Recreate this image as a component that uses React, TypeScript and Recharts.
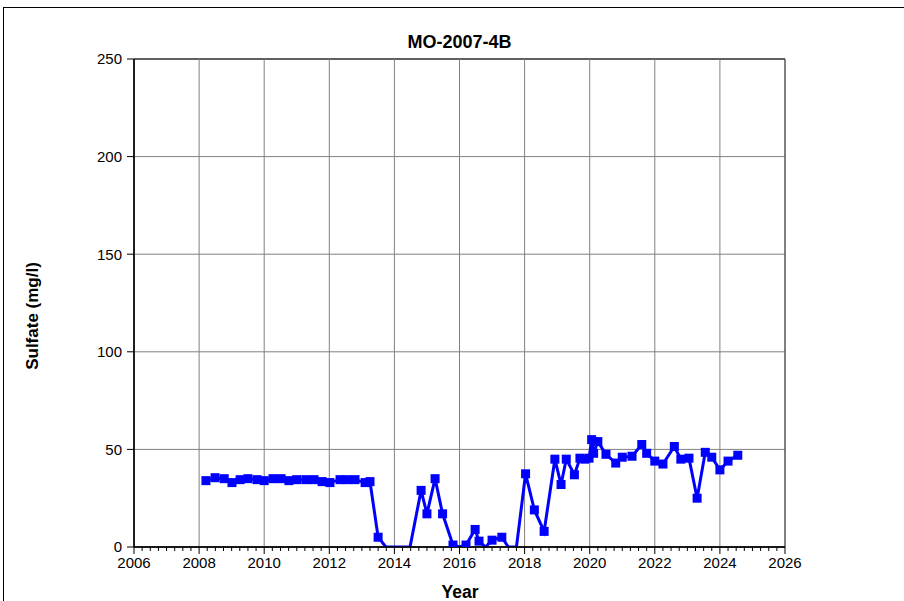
import React from 'react';
import { LineChart, Line, XAxis, YAxis, CartesianGrid, ReferenceArea, ReferenceLine, Label } from 'recharts';

const years: number[] = [
  2008.21, 2008.49, 2008.77, 2009.01, 2009.26, 2009.5, 2009.78, 2010.0, 2010.27, 2010.52, 2010.76,
  2011.0, 2011.28, 2011.53, 2011.78, 2012.02, 2012.33, 2012.54, 2012.79, 2013.1, 2013.25, 2013.5,
  2013.74, 2014.1, 2014.48, 2014.82, 2015.0, 2015.25, 2015.48, 2015.8, 2016.0, 2016.2, 2016.48,
  2016.6, 2016.8, 2017.0, 2017.3, 2017.5, 2017.75, 2018.03, 2018.3, 2018.6, 2018.93, 2019.12,
  2019.28, 2019.53, 2019.7, 2019.85, 2019.98, 2020.06, 2020.12, 2020.25, 2020.5, 2020.8, 2021.0,
  2021.3, 2021.6, 2021.75, 2022.0, 2022.25, 2022.6, 2022.8, 2023.05, 2023.3, 2023.55, 2023.75,
  2024.0, 2024.25, 2024.55,
];

const sulfate: number[] = [
  34, 35.5, 35, 33, 34.5, 35, 34.5, 34, 35, 35, 34,
  34.5, 34.5, 34.5, 33.5, 33, 34.5, 34.5, 34.5, 33, 33.5, 5,
  0, 0, 0, 29, 17, 35, 17, 1, 0, 1, 9,
  3, 0, 3.5, 5, 0, 0, 37.5, 19, 8, 45, 32,
  45, 37, 45.5, 45, 45.5, 55, 48, 54, 47.5, 43, 46,
  46.5, 52.5, 48, 44, 42.5, 51.5, 45, 45.5, 25, 48.5, 46,
  39.5, 44, 47,
];

const xTicks: number[] = [2006, 2008, 2010, 2012, 2014, 2016, 2018, 2020, 2022, 2024, 2026];
const yTicks: number[] = [0, 50, 100, 150, 200, 250];

const title = 'MO-2007-4B';
const xTitle = 'Year';
const yTitle = 'Sulfate (mg/l)';

const data = years.map((y, i) => ({ year: y, sulfate: sulfate[i] }));
const allXTicks: number[] = [];
for (let t = 2006; t <= 2026.001; t += 0.25) allXTicks.push(Math.round(t * 100) / 100);

const FONT = '"Liberation Sans", Arial, sans-serif';

const SquareDot = (props: any) => {
  const { cx, cy, payload } = props;
  if (cx == null || cy == null || !payload || payload.sulfate <= 0) return null;
  return <rect x={cx - 4.5} y={cy - 4.5} width={9} height={9} fill="#0000FF" />;
};

const XTick = (props: any) => {
  const { x, y, payload } = props;
  const v = payload.value;
  const major = xTicks.includes(v);
  return (
    <g>
      <line x1={x} x2={x} y1={y} y2={y + (major ? 7 : 4)} stroke="#000" strokeWidth={1} />
      {major && (
        <text x={x} y={y + 10} dy="0.71em" textAnchor="middle" fontSize={15} fontFamily={FONT} fill="#000">
          {v}
        </text>
      )}
    </g>
  );
};

export default function App() {
  return (
    <div style={{ position: 'absolute', left: 0, top: 0, width: 904, height: 601, overflow: 'hidden', background: '#fff' }}>
      <div style={{ position: 'absolute', left: 3, top: 7, width: 1000, height: 1000, border: '1px solid #000', boxSizing: 'border-box' }} />
      <div style={{ position: 'absolute', left: 134, width: 651, top: 32, textAlign: 'center', fontFamily: FONT, fontWeight: 'bold', fontSize: 18, lineHeight: '20px', color: '#000' }}>
        {title}
      </div>
      <div style={{ position: 'absolute', left: 0, top: 0 }}>
        <LineChart width={904} height={601} data={data} margin={{ top: 59, right: 119, bottom: 0, left: 0 }}>
          <CartesianGrid stroke="#808080" strokeWidth={1} vertical={false} />
          {xTicks.map((t) => (
            <ReferenceLine key={t} x={t} stroke="#808080" strokeWidth={1} />
          ))}
          <XAxis
            dataKey="year"
            type="number"
            domain={[2006, 2026]}
            ticks={allXTicks}
            interval={0}
            tickSize={0}
            tickMargin={0}
            axisLine={{ stroke: '#000', strokeWidth: 1.5 }}
            tickLine={false}
            tick={<XTick />}
            height={54}
            allowDataOverflow
          >
            <Label
              content={() => (
                <text x={460} y={598} textAnchor="middle" fontFamily={FONT} fontWeight="bold" fontSize={17.5} fill="#000">
                  {xTitle}
                </text>
              )}
            />
          </XAxis>
          <YAxis
            type="number"
            domain={[0, 250]}
            ticks={yTicks}
            interval={0}
            width={134}
            tickSize={7}
            tickMargin={5}
            axisLine={{ stroke: '#000', strokeWidth: 1.5 }}
            tickLine={{ stroke: '#000' }}
            tick={{ fill: '#000', fontSize: 15, fontFamily: FONT }}
            allowDataOverflow
          >
            <Label
              content={() => (
                <text
                  x={38}
                  y={316}
                  transform="rotate(-90 38 316)"
                  textAnchor="middle"
                  fontFamily={FONT}
                  fontWeight="bold"
                  fontSize={17}
                  fill="#000"
                >
                  {yTitle}
                </text>
              )}
            />
          </YAxis>
          <ReferenceArea x1={2006} x2={2026} y1={0} y2={250} fill="none" stroke="#000" strokeWidth={1} ifOverflow="visible" />
          <Line
            dataKey="sulfate"
            type="linear"
            stroke="#0000FF"
            strokeWidth={3}
            dot={<SquareDot />}
            activeDot={false}
            isAnimationActive={false}
          />
        </LineChart>
      </div>
    </div>
  );
}
